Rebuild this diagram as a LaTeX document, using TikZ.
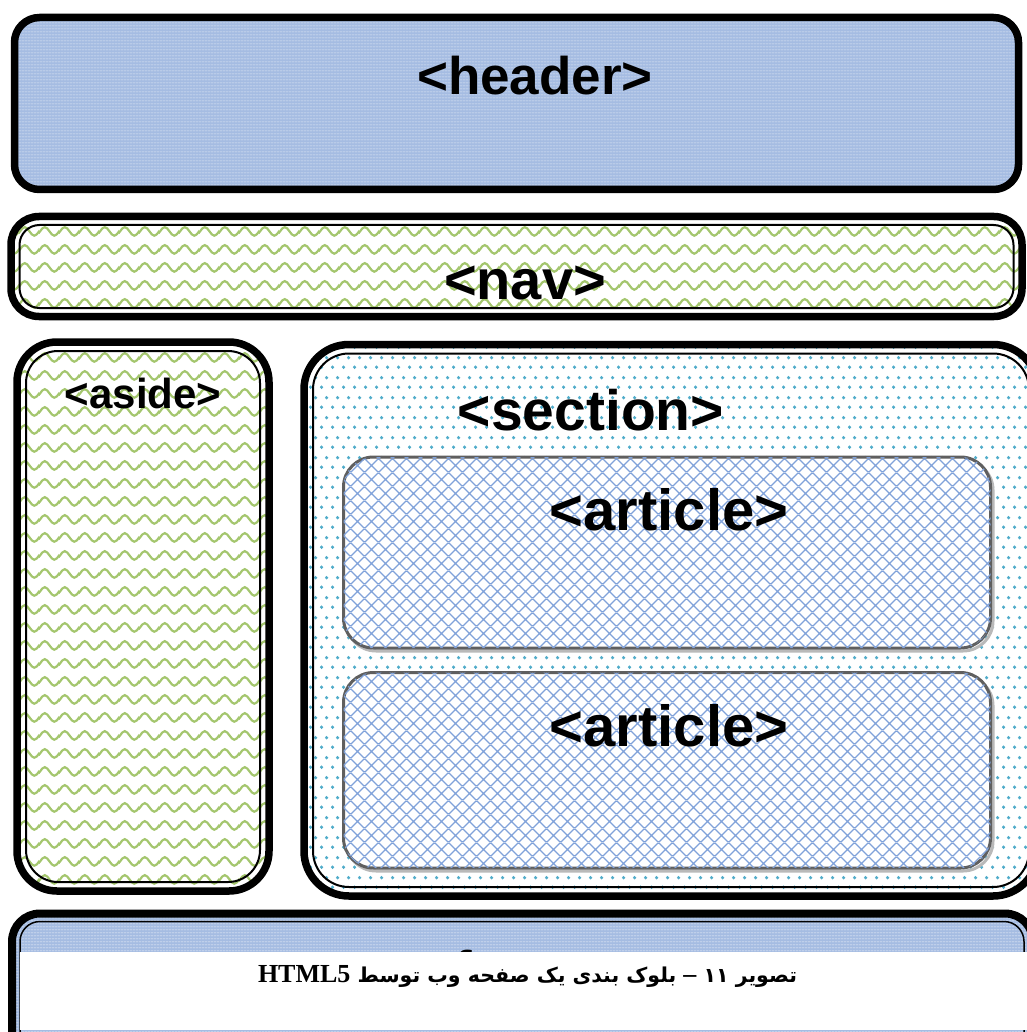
\documentclass[tikz,border=0pt]{standalone}
\usepackage{fontspec}
\setmainfont{Liberation Sans}
\newfontfamily\arabicfont[Script=Arabic]{DejaVu Sans}
\newfontfamily\serifb{Liberation Serif}
\TeXXeTstate=1
\usetikzlibrary{patterns.meta}
\definecolor{hdrblue}{RGB}{165,188,226}
\definecolor{wavegreen}{RGB}{164,198,110}
\definecolor{dotaqua}{RGB}{80,172,202}
\definecolor{hatchblue}{RGB}{128,162,218}
\definecolor{artgray}{RGB}{95,95,95}
\definecolor{shadowgray}{RGB}{185,185,185}

\tikzdeclarepattern{
  name=hdrdots, type=colored,
  bounding box={(0pt,0pt) and (3pt,3pt)},
  tile size={(3pt,3pt)},
  code={\fill[white,opacity=0.55] (1.5pt,1.5pt) circle (0.65pt);}
}
\tikzdeclarepattern{
  name=navwaves, type=colored,
  bounding box={(0pt,0pt) and (20pt,18pt)},
  tile size={(20pt,18pt)},
  code={\draw[wavegreen,line width=2.3pt] (-5pt,4.5pt) cos (0pt,9pt) sin (5pt,13.5pt) cos (10pt,9pt) sin (15pt,4.5pt) cos (20pt,9pt) sin (25pt,13.5pt);}
}
\tikzdeclarepattern{
  name=secdots, type=colored,
  bounding box={(0pt,0pt) and (11pt,20pt)},
  tile size={(11pt,20pt)},
  code={\fill[dotaqua] (2.75pt,5pt) circle (1.9pt); \fill[dotaqua] (8.25pt,15pt) circle (1.9pt);}
}
\tikzdeclarepattern{
  name=arthatch, type=colored,
  bounding box={(0pt,0pt) and (13.5pt,13.5pt)},
  tile size={(13.5pt,13.5pt)},
  code={\draw[hatchblue,line width=1.25pt] (-1pt,-1pt) -- (14.5pt,14.5pt) (-1pt,14.5pt) -- (14.5pt,-1pt);}
}

\tikzset{
  thickrim/.style={draw=black,line width=7.5pt},
  thinrim/.style={draw=black,line width=2pt},
  lbl/.style={anchor=base,inner sep=0pt,font=\bfseries},
  artbox/.style={draw=artgray,line width=3pt,rounded corners=30pt,fill=white,postaction={pattern=arthatch}},
  artshadow/.style={draw=shadowgray,line width=3pt,rounded corners=30pt},
}

\begin{document}
\begin{tikzpicture}[x=1pt,y=-1pt]
\useasboundingbox (0,0) rectangle (1026,1032);

% header
\path[rounded corners=25pt,fill=hdrblue,postaction={pattern=hdrdots}] (14.5,17.5) rectangle (1018.5,189.5);
\draw[thickrim,rounded corners=25pt] (14.5,17.5) rectangle (1018.5,189.5);
\node[lbl] (hdr) at (535,95) {\fontsize{53}{60}\selectfont <header>};

% nav
\path[rounded corners=28pt,pattern=navwaves] (11,216.5) rectangle (1022,316.5);
\draw[thinrim,rounded corners=20pt] (19.5,225) rectangle (1013.5,308);
\draw[thickrim,rounded corners=28pt] (11,216.5) rectangle (1022,316.5);
\node[lbl] (nav) at (525,299) {\fontsize{56}{62}\selectfont <nav>};

% aside
\path[rounded corners=40pt,pattern=navwaves] (17,342) rectangle (269,891);
\draw[thinrim,rounded corners=32pt] (26,351) rectangle (260,882);
\draw[thickrim,rounded corners=40pt] (17,342) rectangle (269,891);
\node[lbl] (aside) at (143,408) {\fontsize{42}{48}\selectfont <aside>};

% section
\path[rounded corners=45pt,pattern=secdots] (304,344.5) rectangle (1038,896);
\draw[thinrim,rounded corners=36pt] (313,353.5) rectangle (1029,887);
\draw[thickrim,rounded corners=45pt] (304,344.5) rectangle (1038,896);
\node[lbl] (section) at (591,430) {\fontsize{57}{64}\selectfont <section>};

% articles
\draw[artshadow] (346,460) rectangle (993,651);
\draw[artbox] (343.5,457) rectangle (990.5,648);
\node[lbl] (art1) at (669,530) {\fontsize{58}{64}\selectfont <article>};

\draw[artshadow] (346,675.5) rectangle (993,871);
\draw[artbox] (343.5,672.5) rectangle (990.5,868);
\node[lbl] (art2) at (669,746) {\fontsize{58}{64}\selectfont <article>};

% footer
\path[rounded corners=28pt,fill=hdrblue,postaction={pattern=hdrdots}] (12,913.5) rectangle (1033,1090);
\draw[draw=black,line width=1.5pt,rounded corners=20pt] (20,921.5) rectangle (1024,1080);
\draw[thickrim,line width=8pt,rounded corners=28pt] (12,913.5) rectangle (1033,1090);
\begin{scope}
\clip (20,925) rectangle (1026,952);
\node[lbl] (footer) at (530,988) {\fontsize{53}{60}\selectfont <footer>};
\end{scope}

% caption box
\fill[white] (20,952) rectangle (1027,1030);
\node[anchor=base,inner sep=0pt] (cap) at (527.5,982) {\arabicfont\bfseries\fontsize{20.5}{26}\selectfont\beginR تصویر ۱۱ {\serifb\bfseries\fontsize{26}{26}\selectfont –} بلوک بندی یک صفحه وب توسط \beginL{\serifb\bfseries\fontsize{26}{30}\selectfont HTML5}\endL\endR};
\end{tikzpicture}
\end{document}
